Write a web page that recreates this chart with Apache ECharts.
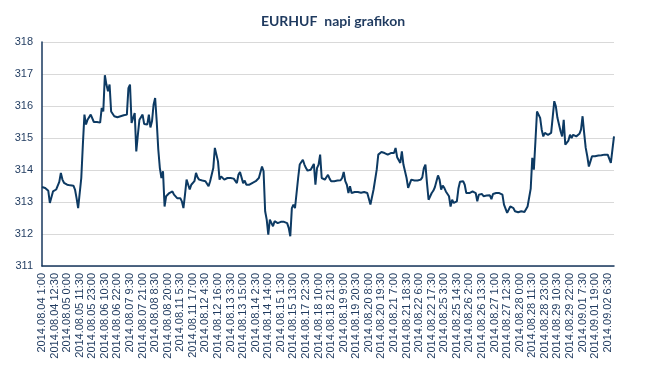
<!DOCTYPE html>
<html>
<head>
<meta charset="utf-8">
<script src="https://cdn.jsdelivr.net/npm/echarts@6/dist/echarts.min.js"></script>
<style>
html,body{margin:0;padding:0;background:#fff;}
#chart{width:645px;height:382px;}
</style>
</head>
<body>
<div id="chart"></div>
<script>
var titleText = 'EURHUF  napi grafikon';

var tickLabels = [
  '2014.08.04 1:00','2014.08.04 12:30','2014.08.05 0:00','2014.08.05 11:30','2014.08.05 23:00',
  '2014.08.06 10:30','2014.08.06 22:00','2014.08.07 9:30','2014.08.07 21:00','2014.08.08 8:30',
  '2014.08.08 20:00','2014.08.11 5:30','2014.08.11 17:00','2014.08.12 4:30','2014.08.12 16:00',
  '2014.08.13 3:30','2014.08.13 15:00','2014.08.14 2:30','2014.08.14 14:00','2014.08.15 1:30',
  '2014.08.15 13:00','2014.08.17 22:30','2014.08.18 10:00','2014.08.18 21:30','2014.08.19 9:00',
  '2014.08.19 20:30','2014.08.20 8:00','2014.08.20 19:30','2014.08.21 7:00','2014.08.21 18:30',
  '2014.08.22 6:00','2014.08.22 17:30','2014.08.25 3:00','2014.08.25 14:30','2014.08.26 2:00',
  '2014.08.26 13:30','2014.08.27 1:00','2014.08.27 12:30','2014.08.28 0:00','2014.08.28 11:30',
  '2014.08.28 23:00','2014.08.29 10:30','2014.08.29 22:00','2014.09.01 7:30','2014.09.01 19:00',
  '2014.09.02 6:30'
];

var rates = [
  313.47,313.46,313.44,313.42,313.35,312.97,312.92,313.33,313.35,313.39,
  313.39,313.63,313.91,313.70,313.60,313.54,313.54,313.53,313.52,313.52,
  313.51,313.39,313.12,312.81,312.81,313.75,314.79,315.73,315.42,315.57,
  315.63,315.73,315.73,315.50,315.47,315.50,315.50,315.48,315.94,315.83,
  316.96,316.67,316.46,316.67,315.83,315.83,315.68,315.63,315.65,315.70,
  315.68,315.67,315.71,315.66,315.73,316.56,316.67,315.47,315.63,315.78,
  314.58,315.10,315.57,315.57,315.73,315.44,315.42,315.42,315.73,315.33,
  315.52,316.04,316.25,315.52,314.64,314.06,313.75,313.96,312.86,313.18,
  313.12,313.28,313.28,313.33,313.23,313.26,313.12,313.15,313.12,313.02,
  312.81,313.23,313.70,313.70,313.39,313.54,313.49,313.65,313.91,313.77,
  313.70,313.69,313.67,313.65,313.65,313.63,313.49,313.65,313.59,314.06,
  314.69,314.48,314.27,313.70,313.80,313.75,313.70,313.75,313.75,313.80,
  313.75,313.76,313.73,313.77,313.59,313.85,313.94,313.88,313.59,313.67,
  313.54,313.51,313.54,313.57,313.60,313.63,313.65,313.70,313.75,313.75,
  314.11,313.96,312.71,312.45,311.98,312.45,312.40,312.24,312.40,312.38,
  312.34,312.35,312.38,312.38,312.38,312.39,312.34,312.19,311.93,312.81,
  312.92,312.81,312.81,313.75,314.17,314.22,314.32,314.17,314.06,313.98,
  313.98,314.01,314.06,314.19,313.54,314.06,314.17,314.48,313.75,313.80,
  313.70,313.70,313.85,313.73,313.65,313.66,313.65,313.65,313.67,313.67,
  313.68,313.75,313.94,313.65,313.54,313.28,313.49,313.28,313.28,313.31,
  313.33,313.31,313.28,313.29,313.30,313.31,313.30,313.28,313.33,312.92,
  312.97,313.39,313.44,314.01,314.48,314.48,314.56,314.59,314.53,314.51,
  314.48,314.51,314.53,314.48,314.53,314.69,314.40,314.38,314.22,314.58,
  314.17,314.22,313.75,313.44,313.44,313.70,313.67,313.67,313.70,313.67,
  313.65,313.70,313.77,314.06,314.17,313.59,313.07,313.02,313.28,313.35,
  313.46,313.49,313.83,313.70,313.39,313.51,313.44,313.33,313.35,313.18,
  312.86,313.07,312.97,313.02,313.02,313.42,313.63,313.65,313.65,313.54,
  313.28,313.28,313.28,313.31,313.33,313.30,313.28,313.02,313.23,313.21,
  313.25,313.18,313.21,313.20,313.23,313.21,313.09,313.25,313.28,313.28,
  313.28,313.28,313.27,313.23,312.92,312.86,312.66,312.69,312.86,312.92,
  312.81,312.71,312.76,312.68,312.71,312.71,312.71,312.69,312.71,312.86,
  312.92,313.42,314.38,314.01,314.90,315.83,315.89,315.63,315.26,315.05,
  315.16,315.13,315.10,315.13,315.16,315.16,316.15,315.99,315.63,315.42,
  315.21,315.05,315.57,314.79,314.84,314.92,315.10,315.00,315.10,315.16,
  315.05,315.05,315.13,315.26,315.68,315.16,314.69,314.43,314.11,314.27,
  314.43,314.43,314.43,314.43,314.45,314.46,314.46,314.48,314.48,314.49,
  314.48,314.43,314.22,314.64,315.05
];

var pointsPerLabel = 8;
var categories = rates.map(function (v, i) {
  return (i % pointsPerLabel === 0 && tickLabels[i / pointsPerLabel]) ? tickLabels[i / pointsPerLabel] : '';
});

var chart = echarts.init(document.getElementById('chart'), null, {renderer: 'canvas'});
chart.setOption({
  animation: false,
  backgroundColor: '#ffffff',
  title: {
    text: titleText,
    left: 328,
    top: 9,
    textAlign: 'center',
    textStyle: {
      fontFamily: 'Lato',
      fontWeight: 'bold',
      fontSize: 14,
      color: '#1f3a5f'
    }
  },
  grid: {left: 42, right: 31, top: 42, bottom: 116, containLabel: false},
  xAxis: {
    type: 'category',
    boundaryGap: false,
    data: categories,
    axisLine: {show: true, lineStyle: {color: '#17375e', width: 1.5}},
    axisTick: {show: false},
    splitLine: {show: false},
    axisLabel: {
      interval: pointsPerLabel - 1,
      rotate: 90,
      margin: 7,
      fontFamily: 'Liberation Sans',
      fontSize: 11,
      color: '#1f3a5f'
    }
  },
  yAxis: {
    type: 'value',
    min: 311,
    max: 318,
    interval: 1,
    axisLine: {show: true, lineStyle: {color: '#17375e', width: 1.5}},
    axisTick: {show: false},
    splitLine: {show: true, lineStyle: {color: '#d9d9d9', width: 1}},
    axisLabel: {
      margin: 9,
      fontFamily: 'Liberation Sans',
      fontSize: 11,
      color: '#1f3a5f'
    }
  },
  series: [{
    type: 'line',
    data: rates,
    showSymbol: false,
    symbol: 'none',
    lineStyle: {color: '#0d3a63', width: 2},
    itemStyle: {color: '#0d3a63'}
  }]
});
</script>
</body>
</html>
